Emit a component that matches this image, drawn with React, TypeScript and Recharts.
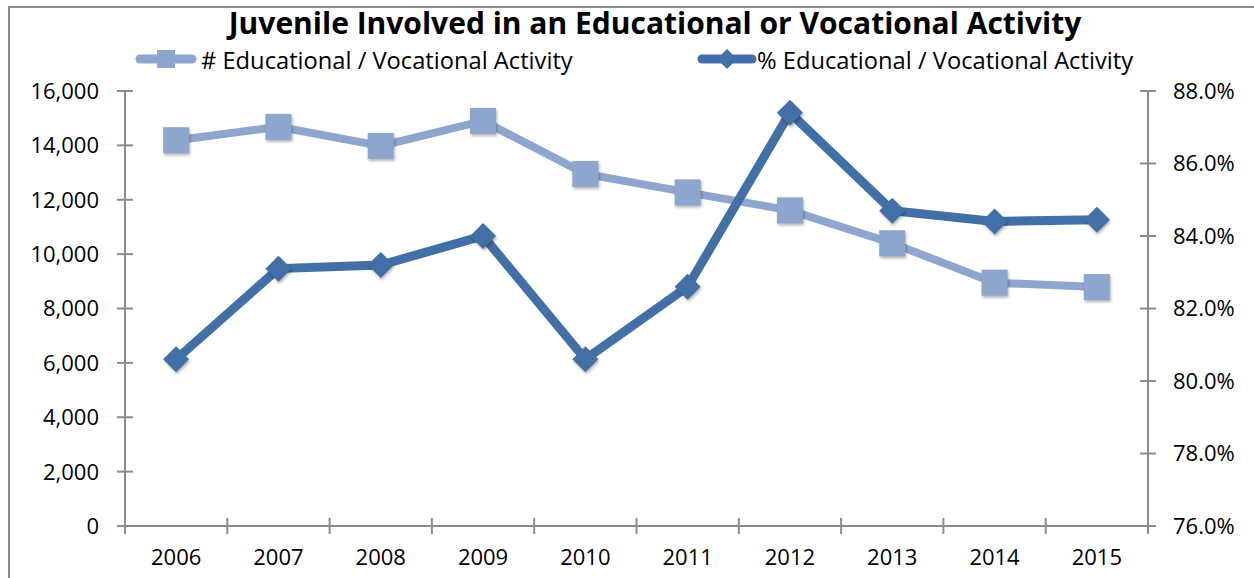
import { ComposedChart, Legend, Line, XAxis, YAxis } from "recharts"

const years = ["2006", "2007", "2008", "2009", "2010", "2011", "2012", "2013", "2014", "2015"]
const countValues = [14190, 14680, 13980, 14900, 12950, 12270, 11610, 10400, 8950, 8790]
const percentValues = [80.6, 83.1, 83.2, 84.0, 80.6, 82.6, 87.4, 84.7, 84.4, 84.45]
const countTicks = [0, 2000, 4000, 6000, 8000, 10000, 12000, 14000, 16000]
const percentTicks = [76, 78, 80, 82, 84, 86, 88]

const countLabel = "# Educational / Vocational Activity"
const percentLabel = "% Educational / Vocational Activity"
const title = "Juvenile Involved in an Educational or Vocational Activity"

const data = years.map((year, i) => ({ year, count: countValues[i], percent: percentValues[i] }))

const LIGHT = "#8EA6CE"
const DARK = "#426FA6"
const AXIS = "#8C8C8C"
const FONT = "'Open Sans', sans-serif"
const BAND = (1148 - 125) / years.length
const shadow = { filter: "drop-shadow(1px 2px 1.5px rgba(0,0,0,0.3))" }

const SquareDot = (props: any) => {
    const { cx, cy, index } = props
    if (cx == null || cy == null) return null
    return <rect key={`sq-${index}`} x={cx - 13} y={cy - 13} width={26} height={26} fill={LIGHT} style={shadow} />
}

const DiamondDot = (props: any) => {
    const { cx, cy, index } = props
    if (cx == null || cy == null) return null
    return (
        <polygon
            key={`dm-${index}`}
            points={`${cx},${cy - 13} ${cx + 13},${cy} ${cx},${cy + 13} ${cx - 13},${cy}`}
            fill={DARK}
            style={shadow}
        />
    )
}

const LeftTick = (props: any) => {
    const { x, y, payload } = props
    return (
        <g>
            <line x1={x - 8} x2={x + 8} y1={y} y2={y} stroke={AXIS} strokeWidth={2} />
            <text x={x - 26} y={y} dy="0.36em" textAnchor="end" fill="#000" fontSize={22} fontFamily={FONT}>
                {payload.value.toLocaleString("en-US")}
            </text>
        </g>
    )
}

const RightTick = (props: any) => {
    const { x, y, payload } = props
    return (
        <g>
            <line x1={x - 8} x2={x + 8} y1={y} y2={y} stroke={AXIS} strokeWidth={2} />
            <text x={x + 25} y={y} dy="0.36em" textAnchor="start" fill="#000" fontSize={22} fontFamily={FONT}>
                {`${Number(payload.value).toFixed(1)}%`}
            </text>
        </g>
    )
}

const BottomTick = (props: any) => {
    const { x, y, payload, index } = props
    const last = index === years.length - 1
    return (
        <g>
            <line x1={x - BAND / 2} x2={x - BAND / 2} y1={y - 8} y2={y + 8} stroke={AXIS} strokeWidth={2} />
            {last && <line x1={x + BAND / 2} x2={x + BAND / 2} y1={y - 8} y2={y + 8} stroke={AXIS} strokeWidth={2} />}
            <text x={x} y={y + 39} textAnchor="middle" fill="#000" fontSize={22} fontFamily={FONT}>
                {payload.value}
            </text>
        </g>
    )
}

const LegendContent = () => (
    <div style={{ position: "relative", width: 1254, height: 28, fontFamily: FONT, fontSize: 23.7, color: "#000" }}>
        <svg width={1254} height={28} style={{ position: "absolute", left: 0, top: 0 }}>
            <line x1={140} x2={192} y1={13} y2={13} stroke={LIGHT} strokeWidth={9} strokeLinecap="round" />
            <rect x={157} y={4} width={18} height={18} fill={LIGHT} />
            <line x1={702} x2={752} y1={13} y2={13} stroke={DARK} strokeWidth={9} strokeLinecap="round" />
            <polygon points="727,3 737,13 727,23 717,13" fill={DARK} />
        </svg>
        <span style={{ position: "absolute", left: 201, top: 0, lineHeight: "28px", whiteSpace: "nowrap" }}>{countLabel}</span>
        <span style={{ position: "absolute", left: 757, top: 0, lineHeight: "28px", whiteSpace: "nowrap" }}>{percentLabel}</span>
    </div>
)

export default function App() {
    return (
        <div style={{ position: "absolute", left: 0, top: 0, width: 1254, height: 578, overflow: "hidden", background: "#fff" }}>
            <div
                style={{
                    position: "absolute",
                    left: 8,
                    top: 6,
                    width: 1300,
                    height: 700,
                    border: `2px solid ${AXIS}`,
                    boxSizing: "border-box",
                }}
            />
            <div
                style={{
                    position: "absolute",
                    left: 0,
                    top: 7,
                    width: 1310,
                    textAlign: "center",
                    fontFamily: FONT,
                    fontWeight: 700,
                    fontSize: 30,
                    lineHeight: "32px",
                    color: "#000",
                }}
            >
                {title}
            </div>
            <div style={{ position: "absolute", left: 0, top: 0 }}>
                <ComposedChart width={1254} height={578} data={data} margin={{ top: 91, right: 6, bottom: 12, left: 8 }}>
                    <XAxis
                        dataKey="year"
                        interval={0}
                        height={40}
                        padding={{ left: BAND / 2, right: BAND / 2 }}
                        tickSize={0}
                        tickMargin={0}
                        tickLine={false}
                        axisLine={{ stroke: AXIS, strokeWidth: 2 }}
                        tick={BottomTick}
                    />
                    <YAxis
                        yAxisId="left"
                        width={117}
                        domain={[0, 16000]}
                        ticks={countTicks}
                        interval={0}
                        tickSize={0}
                        tickMargin={0}
                        tickLine={false}
                        axisLine={{ stroke: AXIS, strokeWidth: 2 }}
                        tick={LeftTick}
                    />
                    <YAxis
                        yAxisId="right"
                        orientation="right"
                        width={100}
                        domain={[76, 88]}
                        ticks={percentTicks}
                        interval={0}
                        tickSize={0}
                        tickMargin={0}
                        tickLine={false}
                        axisLine={{ stroke: AXIS, strokeWidth: 2 }}
                        tick={RightTick}
                    />
                    <Legend
                        layout="vertical"
                        align="center"
                        verticalAlign="middle"
                        content={LegendContent}
                        wrapperStyle={{ top: 46, left: 0, width: 1254, height: 28 }}
                    />
                    <Line
                        yAxisId="left"
                        dataKey="count"
                        name={countLabel}
                        stroke={LIGHT}
                        strokeWidth={8}
                        dot={SquareDot}
                        activeDot={false}
                        isAnimationActive={false}
                    />
                    <Line
                        yAxisId="right"
                        dataKey="percent"
                        name={percentLabel}
                        stroke={DARK}
                        strokeWidth={9}
                        dot={DiamondDot}
                        activeDot={false}
                        isAnimationActive={false}
                    />
                </ComposedChart>
            </div>
        </div>
    )
}
